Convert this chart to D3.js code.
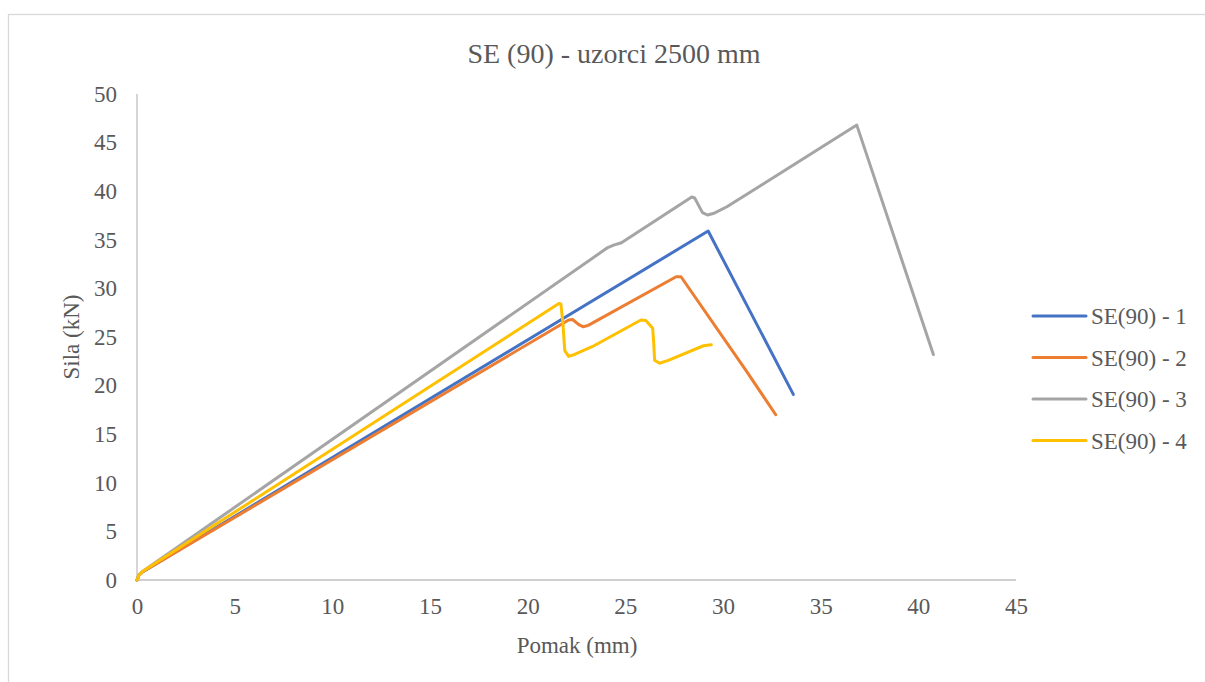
<!DOCTYPE html>
<html><head><meta charset="utf-8">
<script src="https://cdn.jsdelivr.net/npm/d3@7"></script>
<style>body{margin:0;background:#fff;} svg text{font-family:"Liberation Serif","Times New Roman",Tinos,serif;}</style>
</head><body>
<svg id="c" width="1205" height="682"></svg>
<script>
const title = "SE (90) - uzorci 2500 mm";
const xLabel = "Pomak (mm)";
const yLabel = "Sila (kN)";
const xTicks = [0,5,10,15,20,25,30,35,40,45];
const yTicks = [0,5,10,15,20,25,30,35,40,45,50];
const seriesNames = ["SE(90) - 1","SE(90) - 2","SE(90) - 3","SE(90) - 4"];
const seriesColors = ["#4472C4","#ED7D31","#A5A5A5","#FFC000"];
const s1 = [[0,0],[0.1,0.5],[0.3,0.85],[29.24,35.9],[33.6,19.1]];
const s2 = [[0,0],[0.1,0.5],[0.3,0.85],[22.1,26.75],[22.3,26.8],[22.6,26.3],[22.85,26.05],[23.1,26.2],[27.6,31.2],[27.85,31.2],[31.2,21.5],[32.7,17.0]];
const s3 = [[0,0],[0.1,0.5],[0.3,0.9],[24.1,34.2],[24.4,34.45],[24.8,34.7],[28.4,39.4],[28.55,39.3],[28.95,37.8],[29.2,37.55],[29.5,37.7],[30.2,38.4],[36.85,46.8],[40.77,23.2]];
const s4 = [[0,0],[0.1,0.5],[0.3,0.9],[21.6,28.45],[21.7,28.4],[21.8,26.5],[21.9,23.6],[22.1,23.0],[22.4,23.2],[23.3,24.0],[25.8,26.75],[26.05,26.7],[26.4,25.9],[26.45,24.5],[26.5,22.6],[26.75,22.3],[27.2,22.6],[29.0,24.1],[29.4,24.2]];
const allSeries = [s1,s2,s3,s4];

const svg = d3.select("#c");
svg.append("rect").attr("x",8.5).attr("y",14.5).attr("width",1300).attr("height",800)
  .attr("fill","#fff").attr("stroke","#d9d9d9").attr("stroke-width",1.3);

const x = d3.scaleLinear().domain([0,45]).range([137,1016]);
const y = d3.scaleLinear().domain([0,50]).range([580,94]);

svg.append("line").attr("x1",x(0)).attr("x2",x(45)).attr("y1",y(0)).attr("y2",y(0)).attr("stroke","#bfbfbf").attr("stroke-width",1.3);
svg.append("line").attr("x1",x(0)).attr("x2",x(0)).attr("y1",y(0)).attr("y2",y(50)).attr("stroke","#bfbfbf").attr("stroke-width",1.3);

const xa = d3.axisBottom(x).tickValues(xTicks).tickSize(0).tickPadding(18);
const gx = svg.append("g").attr("transform",`translate(0,${y(0)})`).call(xa);
gx.select(".domain").remove();
gx.attr("font-size",null).attr("font-family",null);
gx.selectAll("text").style("font-size","23px").attr("fill","#595959");

const ya = d3.axisLeft(y).tickValues(yTicks).tickSize(0).tickPadding(20);
const gy = svg.append("g").attr("transform",`translate(${x(0)},0)`).call(ya);
gy.select(".domain").remove();
gy.attr("font-size",null).attr("font-family",null);
gy.selectAll("text").style("font-size","23px").attr("fill","#595959");

const lineL = d3.line().x(d=>x(d[0])).y(d=>y(d[1]));
allSeries.forEach((s,i)=>{
  svg.append("path").datum(s).attr("d",lineL).attr("fill","none")
    .attr("stroke",seriesColors[i]).attr("stroke-width",3).attr("stroke-linejoin","round").attr("stroke-linecap","round");
});

svg.append("text").attr("x",614).attr("y",63).attr("text-anchor","middle").style("font-size","28px").attr("fill","#595959").text(title);
svg.append("text").attr("x",577).attr("y",653).attr("text-anchor","middle").style("font-size","23px").attr("fill","#595959").text(xLabel);
svg.append("text").attr("transform","translate(79,337) rotate(-90)").attr("text-anchor","middle").style("font-size","23px").attr("fill","#595959").text(yLabel);

const lg = svg.append("g");
seriesNames.forEach((n,i)=>{
  const yy = 316 + i*41.5;
  lg.append("line").attr("x1",1033).attr("x2",1086).attr("y1",yy).attr("y2",yy).attr("stroke",seriesColors[i]).attr("stroke-width",3).attr("stroke-linecap","round");
  lg.append("text").attr("x",1091).attr("y",yy+8).style("font-size","23px").attr("fill","#595959").text(n);
});
</script>
</body></html>
